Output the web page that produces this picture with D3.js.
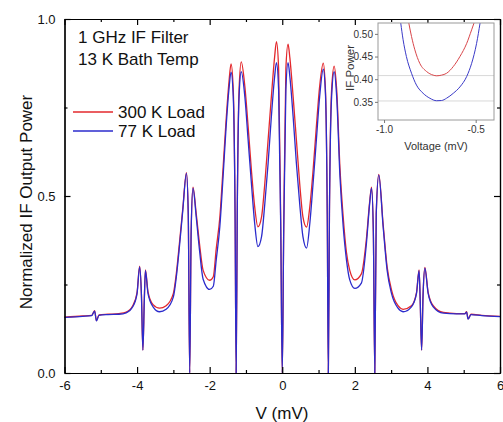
<!DOCTYPE html>
<html>
<head>
<meta charset="utf-8">
<script src="https://cdn.jsdelivr.net/npm/d3@7"></script>
<style>
  body { margin: 0; background: #fff; }
  text { font-family: Arial, "Liberation Sans", sans-serif; }
</style>
</head>
<body>
<div id="chart"></div>
<script>
// ---------- data ----------
const voltage = [
  -6.0, -5.5, -5.25, -5.17, -5.12, -5.05, -4.8, -4.5, -4.3, -4.12,
  -4.0, -3.93, -3.88, -3.84, -3.80, -3.77, -3.70, -3.56, -3.38, -3.2,
  -3.0, -2.92, -2.83, -2.74, -2.64, -2.59, -2.55, -2.51, -2.46, -2.37,
  -2.28, -2.18, -2.0, -1.9, -1.82, -1.72, -1.63, -1.55, -1.47, -1.41,
  -1.35, -1.30, -1.27, -1.24, -1.19, -1.13, -1.03, -0.94, -0.85, -0.76,
  -0.67, -0.57, -0.48, -0.39, -0.30, -0.21, -0.16, -0.10, -0.04, 0,
  0.04, 0.10, 0.16, 0.21, 0.30, 0.39, 0.48, 0.57, 0.67, 0.76,
  0.85, 0.94, 1.03, 1.13, 1.19, 1.24, 1.27, 1.30, 1.36, 1.43,
  1.50, 1.59, 1.68, 1.77, 1.86, 2.0, 2.18, 2.32, 2.41, 2.46,
  2.51, 2.55, 2.59, 2.66, 2.78, 2.89, 3.01, 3.19, 3.33, 3.56,
  3.70, 3.77, 3.80, 3.84, 3.88, 3.93, 4.02, 4.16, 4.44, 4.8,
  5.03, 5.08, 5.12, 5.2, 5.5, 6.0
];

// 300 K load (red)
const load300 = [
  0.158, 0.161, 0.163, 0.176, 0.148, 0.164, 0.166, 0.168, 0.172, 0.19,
  0.228, 0.302, 0.22, 0.065, 0.21, 0.291, 0.23, 0.193, 0.183, 0.19,
  0.225, 0.28, 0.37, 0.465, 0.566, 0.45, 0.0, 0.40, 0.525, 0.45,
  0.365, 0.29, 0.262, 0.272, 0.35, 0.44, 0.58, 0.71, 0.82, 0.873,
  0.80, 0.45, 0.0, 0.45, 0.80, 0.879, 0.809, 0.696, 0.573, 0.47,
  0.413, 0.441, 0.536, 0.658, 0.78, 0.893, 0.936, 0.86, 0.40, 0.0,
  0.40, 0.86, 0.929, 0.89, 0.78, 0.658, 0.536, 0.441, 0.412, 0.47,
  0.573, 0.696, 0.809, 0.875, 0.80, 0.45, 0.0, 0.45, 0.80, 0.867,
  0.80, 0.58, 0.44, 0.34, 0.29, 0.263, 0.28, 0.38, 0.485, 0.525,
  0.40, 0.0, 0.45, 0.561, 0.42, 0.30, 0.235, 0.19, 0.18, 0.19,
  0.228, 0.291, 0.21, 0.065, 0.22, 0.298, 0.228, 0.19, 0.171, 0.168,
  0.168, 0.173, 0.153, 0.166, 0.163, 0.160
];

// 77 K load (blue)
const load77 = [
  0.157, 0.160, 0.162, 0.175, 0.147, 0.163, 0.165, 0.166, 0.170, 0.187,
  0.225, 0.300, 0.22, 0.065, 0.21, 0.289, 0.225, 0.187, 0.173, 0.180,
  0.215, 0.27, 0.36, 0.46, 0.564, 0.45, 0.0, 0.40, 0.522, 0.44,
  0.347, 0.265, 0.236, 0.245, 0.319, 0.413, 0.555, 0.69, 0.80, 0.850,
  0.78, 0.45, 0.0, 0.45, 0.78, 0.851, 0.78, 0.658, 0.536, 0.423,
  0.357, 0.385, 0.479, 0.592, 0.724, 0.837, 0.877, 0.80, 0.40, 0.0,
  0.40, 0.80, 0.877, 0.837, 0.724, 0.592, 0.479, 0.385, 0.353, 0.423,
  0.536, 0.658, 0.78, 0.858, 0.79, 0.45, 0.0, 0.45, 0.78, 0.851,
  0.78, 0.555, 0.413, 0.319, 0.263, 0.239, 0.254, 0.367, 0.48, 0.522,
  0.40, 0.0, 0.45, 0.559, 0.413, 0.29, 0.225, 0.183, 0.173, 0.187,
  0.225, 0.289, 0.21, 0.065, 0.22, 0.296, 0.225, 0.187, 0.169, 0.167,
  0.167, 0.172, 0.152, 0.165, 0.162, 0.159
];

// inset (zoom on the valley near -0.7 mV)
const insetV300 = [-0.865, -0.850, -0.832, -0.805, -0.768, -0.732, -0.713, -0.686, -0.659, -0.622, -0.586, -0.549, -0.522, -0.509];
const insetP300 = [0.524, 0.494, 0.465, 0.435, 0.417, 0.409, 0.4075, 0.409, 0.413, 0.428, 0.450, 0.479, 0.509, 0.524];
const insetV77 = [-0.909, -0.896, -0.878, -0.850, -0.823, -0.787, -0.750, -0.713, -0.686, -0.659, -0.622, -0.586, -0.549, -0.522, -0.495, -0.476];
const insetP77 = [0.524, 0.487, 0.450, 0.413, 0.387, 0.369, 0.358, 0.3525, 0.353, 0.358, 0.369, 0.383, 0.406, 0.435, 0.479, 0.524];
const insetRefLevels = [0.408, 0.352];

// ticks
const xMajor = [-6, -4, -2, 0, 2, 4, 6], xMinor = [-5, -3, -1, 1, 3, 5];
const yMajor = [0, 0.5, 1.0], yMinor = [0.25, 0.75];
const insetXTicks = [-1.0, -0.5], insetYTicks = [0.35, 0.40, 0.45, 0.50];

const series = [
  { name: "300 K Load", values: load300, color: "#e3282c" },
  { name: "77 K Load", values: load77, color: "#2b2bcc" }
];

// ---------- canvas ----------
const width = 503, height = 422;
const svg = d3.select("#chart").append("svg")
  .attr("width", width)
  .attr("height", height);

const x = d3.scaleLinear().domain([-6, 6]).range([64.5, 500]);
const y = d3.scaleLinear().domain([0, 1]).range([373, 19]);

// curves
const line = d3.line()
  .x(d => x(d[0]))
  .y(d => y(d[1]))
  .curve(d3.curveMonotoneX);

series.forEach(s => {
  svg.append("path")
    .datum(voltage.map((v, i) => [v, s.values[i]]))
    .attr("fill", "none")
    .attr("stroke", s.color)
    .attr("stroke-width", 1.3)
    .attr("d", line);
});

// axes (inward ticks on all four sides)
const fmtX = d => String(d);
const fmtY = d3.format(".1f");

svg.append("g").attr("transform", "translate(0,373)")
  .call(d3.axisBottom(x).tickValues(xMajor).tickSize(-6).tickSizeOuter(0).tickPadding(8).tickFormat(fmtX));
svg.append("g").attr("transform", "translate(0,373)")
  .call(d3.axisBottom(x).tickValues(xMinor).tickSize(-3).tickSizeOuter(0).tickFormat(""));
svg.append("g").attr("transform", "translate(0,19)")
  .call(d3.axisTop(x).tickValues(xMajor).tickSize(-6).tickSizeOuter(0).tickFormat(""));
svg.append("g").attr("transform", "translate(0,19)")
  .call(d3.axisTop(x).tickValues(xMinor).tickSize(-3).tickSizeOuter(0).tickFormat(""));
svg.append("g").attr("transform", "translate(64.5,0)")
  .call(d3.axisLeft(y).tickValues(yMajor).tickSize(-6).tickSizeOuter(0).tickPadding(9).tickFormat(fmtY));
svg.append("g").attr("transform", "translate(64.5,0)")
  .call(d3.axisLeft(y).tickValues(yMinor).tickSize(-3).tickSizeOuter(0).tickFormat(""));
svg.append("g").attr("transform", "translate(500,0)")
  .call(d3.axisRight(y).tickValues(yMajor).tickSize(-6).tickSizeOuter(0).tickFormat(""));
svg.append("g").attr("transform", "translate(500,0)")
  .call(d3.axisRight(y).tickValues(yMinor).tickSize(-3).tickSizeOuter(0).tickFormat(""));

svg.selectAll(".tick text").attr("font-size", 13).attr("fill", "#111");
svg.selectAll(".domain, .tick line").attr("stroke", "#000").attr("stroke-width", 1.2);

// axis titles
svg.append("text")
  .attr("x", 282).attr("y", 419)
  .attr("text-anchor", "middle")
  .attr("font-size", 17)
  .attr("fill", "#111")
  .text("V (mV)");

svg.append("text")
  .attr("transform", "translate(32,202) rotate(-90)")
  .attr("text-anchor", "middle")
  .attr("font-size", 17)
  .attr("fill", "#111")
  .text("Normalized IF Output Power");

// annotations
svg.append("text").attr("x", 78).attr("y", 43).attr("font-size", 17).attr("fill", "#111").text("1 GHz IF Filter");
svg.append("text").attr("x", 78).attr("y", 65).attr("font-size", 17).attr("fill", "#111").text("13 K Bath Temp");

// legend
series.forEach((s, i) => {
  const ly = 112 + i * 19;
  svg.append("line")
    .attr("x1", 73).attr("x2", 113).attr("y1", ly).attr("y2", ly)
    .attr("stroke", s.color).attr("stroke-width", 1.3);
  svg.append("text")
    .attr("x", 118).attr("y", ly + 6)
    .attr("font-size", 17).attr("fill", "#111")
    .text(s.name);
});

// ---------- inset ----------
const ix = d3.scaleLinear().domain([-1.033, -0.40]).range([378, 494]);
const iy = d3.scaleLinear().domain([0.31, 0.524]).range([120, 23]);

const inset = svg.append("g");
inset.append("rect")
  .attr("x", 378).attr("y", 23).attr("width", 116).attr("height", 97)
  .attr("fill", "#fff");

inset.selectAll("line.ref")
  .data(insetRefLevels)
  .enter().append("line")
  .attr("class", "ref")
  .attr("x1", 378).attr("x2", 494)
  .attr("y1", d => iy(d)).attr("y2", d => iy(d))
  .attr("stroke", "#d8d8d8").attr("stroke-width", 1);

inset.append("clipPath").attr("id", "insetClip")
  .append("rect").attr("x", 378).attr("y", 23).attr("width", 116).attr("height", 97);

const iline = d3.line()
  .x(d => ix(d[0]))
  .y(d => iy(d[1]))
  .curve(d3.curveMonotoneX);

[[insetV300, insetP300, "#d9464a"], [insetV77, insetP77, "#3a3ac8"]].forEach(([vs, ps, c]) => {
  inset.append("path")
    .datum(vs.map((v, i) => [v, ps[i]]))
    .attr("clip-path", "url(#insetClip)")
    .attr("fill", "none")
    .attr("stroke", c)
    .attr("stroke-width", 1)
    .attr("d", iline);
});

inset.append("rect")
  .attr("x", 378).attr("y", 23).attr("width", 116).attr("height", 97)
  .attr("fill", "none").attr("stroke", "#9a9a9a").attr("stroke-width", 1);

const ixAxis = inset.append("g").attr("transform", "translate(0,120)")
  .call(d3.axisBottom(ix).tickValues(insetXTicks).tickSize(3).tickSizeOuter(0).tickPadding(3).tickFormat(d3.format(".1f")));
const iyAxis = inset.append("g").attr("transform", "translate(378,0)")
  .call(d3.axisLeft(iy).tickValues(insetYTicks).tickSize(3).tickSizeOuter(0).tickPadding(2).tickFormat(d3.format(".2f")));
[ixAxis, iyAxis].forEach(g => {
  g.select(".domain").remove();
  g.selectAll(".tick line").attr("stroke", "#777");
  g.selectAll(".tick text").attr("font-size", 10).attr("fill", "#333");
});
ixAxis.selectAll(".tick text").text(d => d.toFixed(1));

inset.append("text")
  .attr("x", 436).attr("y", 150)
  .attr("text-anchor", "middle")
  .attr("font-size", 11).attr("fill", "#333")
  .text("Voltage (mV)");
inset.append("text")
  .attr("transform", "translate(354,68) rotate(-90)")
  .attr("text-anchor", "middle")
  .attr("font-size", 11.5).attr("fill", "#333")
  .text("IF Power");
</script>
</body>
</html>
